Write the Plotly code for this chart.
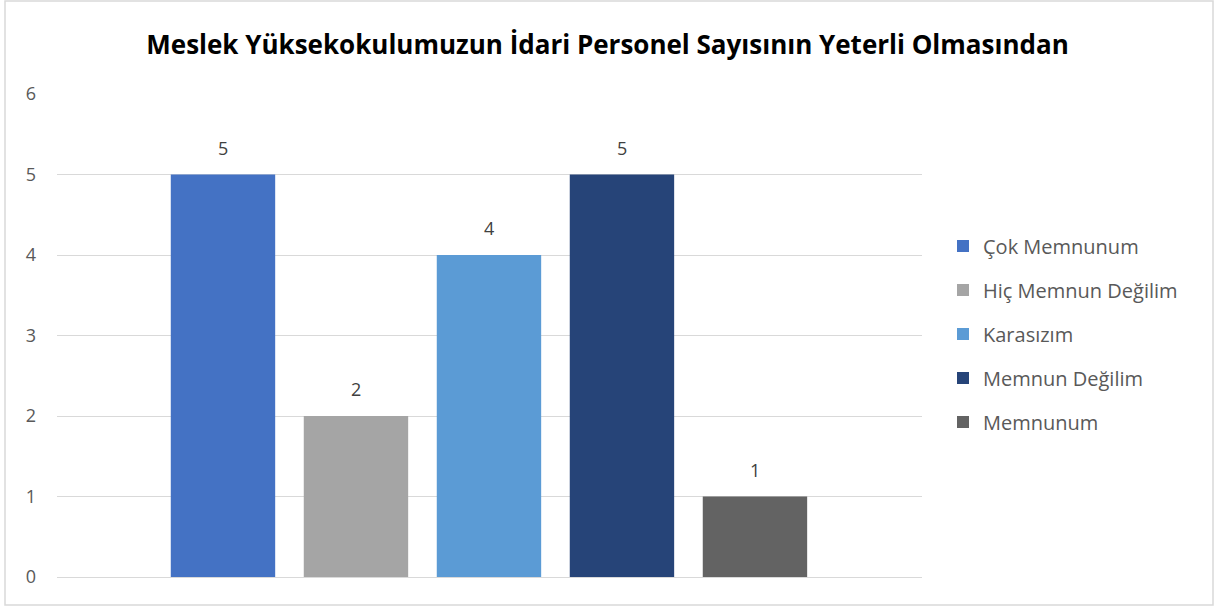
import plotly.graph_objects as go

series_names = ["Çok Memnunum", "Hiç Memnun Değilim", "Karasızım", "Memnun Değilim", "Memnunum"]
values = [5, 2, 4, 5, 1]
colors = ["#4472C4", "#A5A5A5", "#5B9BD5", "#264478", "#636363"]
positions = [0, 1, 2, 3, 4]
title_text = "Meslek Yüksekokulumuzun İdari Personel Sayısının Yeterli Olmasından"

W, H = 1215, 608
L, R, T, B = 57, 922, 94, 577

fig = go.Figure()
for i, (n, v, c, p) in enumerate(zip(series_names, values, colors, positions)):
    fig.add_trace(go.Bar(
        x=[p], y=[v], name=n, marker_color=c, marker_line_width=0,
        width=0.785, legendgroup=str(i),
    ))
    fig.add_annotation(x=p, y=v, text=str(v), showarrow=False,
                       yanchor="bottom", yshift=13,
                       font=dict(size=18, color="#404040", family="Open Sans"))

def px_x(p):
    return (p - L) / (R - L)

def px_y(p):
    return (B - p) / (B - T)

fig.add_shape(type="rect", xref="paper", yref="paper",
              x0=px_x(5), x1=px_x(1213), y0=px_y(605), y1=px_y(1),
              line=dict(color="#D9D9D9", width=1.5), fillcolor="rgba(0,0,0,0)", layer="below")

fig.update_layout(
    width=W, height=H,
    margin=dict(l=L, r=W - R, t=T, b=H - B, pad=0),
    paper_bgcolor="white", plot_bgcolor="white",
    title=dict(text="<b>" + title_text + "</b>", x=0.5, xanchor="center",
               y=1 - 45 / H, yanchor="middle",
               font=dict(size=26, color="#000000", family="Open Sans")),
    legend=dict(x=px_x(943), xanchor="left", y=px_y(334), yanchor="middle",
                font=dict(size=20, color="#595959", family="Open Sans"),
                tracegroupgap=15, itemwidth=30),
    showlegend=True,
    font=dict(family="Open Sans"),
)
fig.update_yaxes(range=[0, 6], dtick=1, showgrid=True, gridcolor="#D9D9D9", gridwidth=1.2,
                 zeroline=True, zerolinecolor="#D9D9D9", zerolinewidth=1.2,
                 showline=False, ticks="", ticklabelstandoff=20,
                 tickfont=dict(size=18, color="#595959", family="Open Sans"))
fig.update_xaxes(range=[-1.248, 5.256], showticklabels=False, showline=False, ticks="",
                 showgrid=False, zeroline=False)

fig.write_html("out.html", config={"displayModeBar": False},
               post_script="document.body.style.margin='0';")
